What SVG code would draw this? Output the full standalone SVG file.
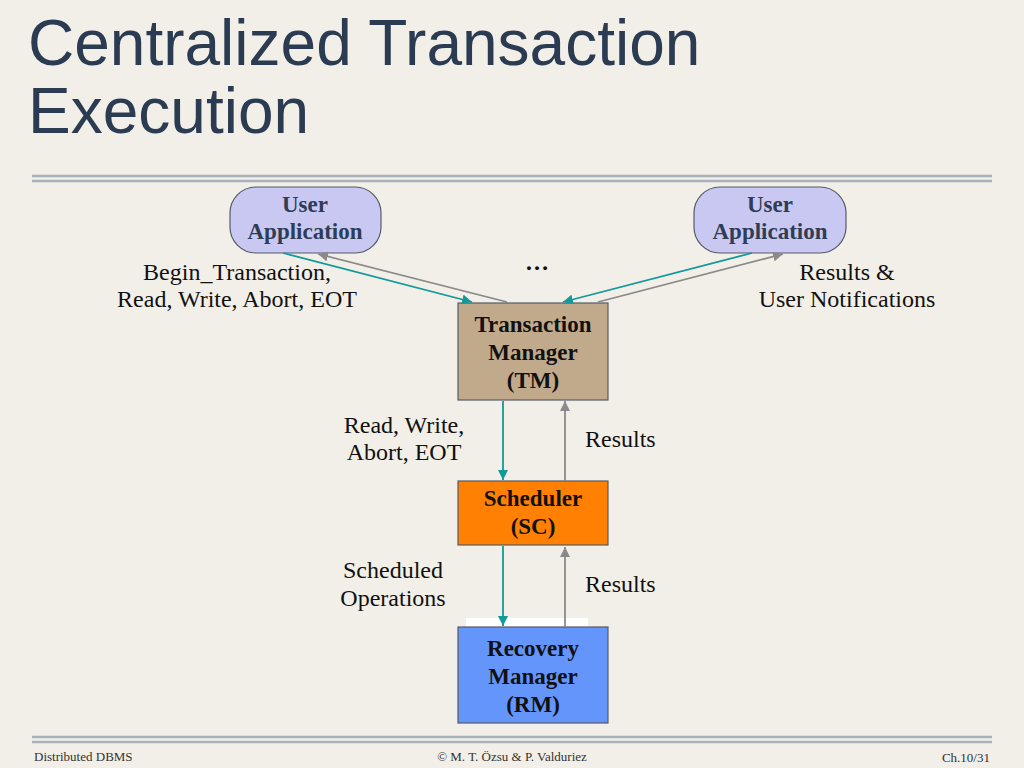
<svg xmlns="http://www.w3.org/2000/svg" width="1024" height="768" viewBox="0 0 1024 768">
<defs>
<marker id="ah-teal" viewBox="0 0 10 10" refX="10" refY="5" markerWidth="10" markerHeight="10" markerUnits="userSpaceOnUse" orient="auto"><path d="M0,0 L10,5 L0,10 z" fill="#12999a"/></marker>
<marker id="ah-gray" viewBox="0 0 10 10" refX="10" refY="5" markerWidth="10" markerHeight="10" markerUnits="userSpaceOnUse" orient="auto"><path d="M0,0 L10,5 L0,10 z" fill="#8a8a8a"/></marker>
</defs>
<style>
.title{font-family:"Liberation Sans",Arial,sans-serif;font-size:64px;fill:#2b3c52}
.lbl{font-family:"Liberation Serif","Times New Roman",serif;font-size:24px;fill:#111}
.nd{font-family:"Liberation Serif","Times New Roman",serif;font-size:23px;font-weight:bold;fill:#111;text-anchor:middle}
.ua{fill:#c9c8f2;stroke:#555a66;stroke-width:1.2}
.uat{fill:#2e3d55}
.box{stroke:#555a66;stroke-width:1.2}
.teal{stroke:#12999a;stroke-width:1.8;fill:none;marker-end:url(#ah-teal)}
.gray{stroke:#8a8a8a;stroke-width:1.8;fill:none;marker-end:url(#ah-gray)}
.rule{stroke:#a9b1ba;stroke-width:2.5}
.ft{font-family:"Liberation Serif","Times New Roman",serif;font-size:13px;fill:#333}
</style>
<rect width="1024" height="768" fill="#f2efe8"/>
<text class="title" x="28" y="65">Centralized Transaction</text>
<text class="title" x="28" y="133">Execution</text>
<line class="rule" x1="32" y1="176" x2="992" y2="176"/>
<line class="rule" x1="32" y1="181" x2="992" y2="181"/>
<line class="rule" x1="32" y1="737" x2="992" y2="737"/>
<line class="rule" x1="32" y1="742" x2="992" y2="742"/>
<rect x="466" y="618" width="122" height="12" fill="#ffffff"/>
<g id="ua1"><rect class="ua" x="230" y="187" width="151" height="66" rx="26"/><text class="nd uat" x="305" y="212">User</text><text class="nd uat" x="305" y="239">Application</text></g>
<g id="ua2"><rect class="ua" x="694" y="187" width="152" height="66" rx="26"/><text class="nd uat" x="770" y="212">User</text><text class="nd uat" x="770" y="239">Application</text></g>
<g id="tm"><rect class="box" x="458" y="303" width="150" height="97" fill="#c1a98b"/><text class="nd" x="533" y="332">Transaction</text><text class="nd" x="533" y="360">Manager</text><text class="nd" x="533" y="388">(TM)</text></g>
<g id="sc"><rect class="box" x="458" y="481" width="150" height="64" fill="#ff8002"/><text class="nd" x="533" y="506">Scheduler</text><text class="nd" x="533" y="534">(SC)</text></g>
<g id="rm"><rect class="box" x="458" y="627" width="150" height="96" fill="#6395fb"/><text class="nd" x="533" y="656">Recovery</text><text class="nd" x="533" y="684">Manager</text><text class="nd" x="533" y="712">(RM)</text></g>
<g id="connectors">
<line class="teal" x1="283" y1="253" x2="472" y2="302"/>
<line class="gray" x1="507" y1="302" x2="318" y2="254"/>
<line class="teal" x1="752" y1="253" x2="563" y2="302"/>
<line class="gray" x1="598" y1="302" x2="783" y2="254"/>
<line class="teal" x1="503" y1="401" x2="503" y2="480"/>
<line class="gray" x1="565" y1="481" x2="565" y2="401"/>
<line class="teal" x1="503" y1="546" x2="503" y2="626"/>
<line class="gray" x1="565" y1="627" x2="565" y2="547"/>
</g>
<text class="lbl" x="237" y="280" text-anchor="middle">Begin_Transaction,</text>
<text class="lbl" x="237" y="307" text-anchor="middle">Read, Write, Abort, EOT</text>
<text class="lbl" x="537" y="270" text-anchor="middle" font-weight="bold" font-size="26">…</text>
<text class="lbl" x="847" y="280" text-anchor="middle">Results &amp;</text>
<text class="lbl" x="847" y="307" text-anchor="middle">User Notifications</text>
<text class="lbl" x="404" y="433" text-anchor="middle">Read, Write,</text>
<text class="lbl" x="404" y="460" text-anchor="middle">Abort, EOT</text>
<text class="lbl" x="585" y="447">Results</text>
<text class="lbl" x="393" y="578" text-anchor="middle">Scheduled</text>
<text class="lbl" x="393" y="606" text-anchor="middle">Operations</text>
<text class="lbl" x="585" y="592">Results</text>
<text class="ft" x="34" y="761">Distributed DBMS</text>
<text class="ft" x="512" y="761" text-anchor="middle">© M. T. Özsu &amp; P. Valduriez</text>
<text class="ft" x="990" y="762" text-anchor="end">Ch.10/31</text>
</svg>
